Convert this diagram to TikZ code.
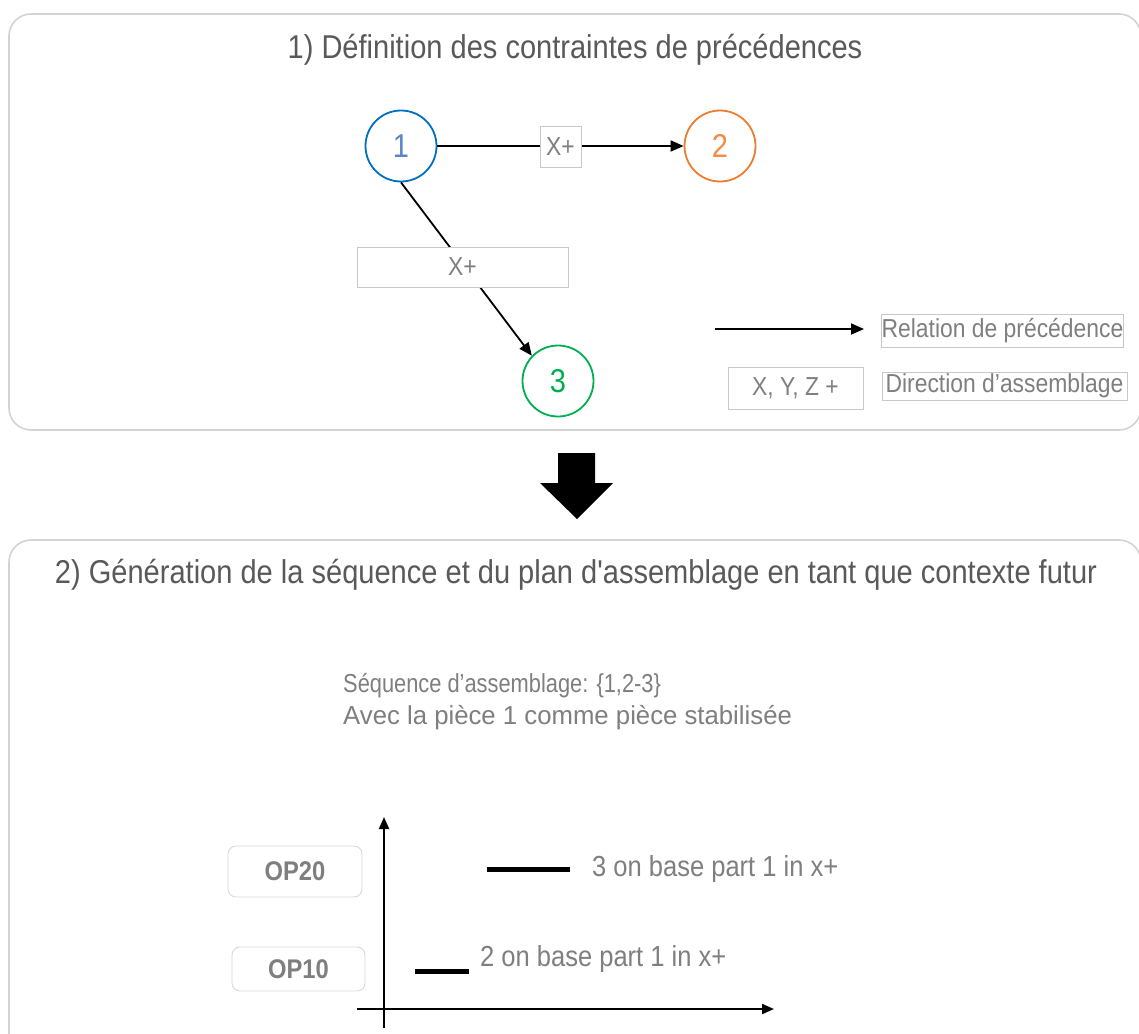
\documentclass[tikz,border=0pt]{standalone}
\usepackage{fontspec}
\setmainfont{Liberation Sans}
\newfontfamily\nar[FakeStretch=0.88]{Liberation Sans}
\newfontfamily\narr[FakeStretch=0.84]{Liberation Sans}
\newfontfamily\wid[FakeStretch=0.99]{Liberation Sans}
\usetikzlibrary{arrows.meta}
\definecolor{txtgray}{HTML}{7F7F7F}
\definecolor{titlegray}{HTML}{595959}
\definecolor{panelgray}{HTML}{D3D3D3}
\definecolor{boxgray}{HTML}{C8C8C8}
\definecolor{cblue}{HTML}{0070C0}
\definecolor{cbluet}{HTML}{5A86C5}
\definecolor{corange}{HTML}{ED7D31}
\definecolor{corangt}{HTML}{F08C44}
\definecolor{cgreen}{HTML}{00B050}
\begin{document}
\begin{tikzpicture}[x=1pt,y=-1pt,
  panel/.style={draw=panelgray, line width=1.6pt, rounded corners=22pt, fill=white},
  circ/.style={circle, draw, line width=1.8pt, minimum size=71pt, inner sep=0pt, font=\nar\fontsize{33}{33}\selectfont},
  lbl/.style={draw=boxgray, line width=0.9pt, fill=white, inner sep=0pt, text=txtgray, font=\nar\fontsize{26}{26}\selectfont},
  prec/.style={-{Triangle[length=13pt,width=11pt]}, line width=1.8pt},
  axis/.style={-{Triangle[length=12pt,width=10pt]}, line width=2pt},
  bar/.style={line width=5pt},
  optxt/.style={draw=boxgray!70, line width=0.9pt, rounded corners=8pt, inner sep=0pt, text=txtgray, font=\nar\bfseries\fontsize{27}{27}\selectfont},
  title/.style={text=titlegray, inner sep=0pt},
  body/.style={text=txtgray, inner sep=0pt}
]
\useasboundingbox (0,0) rectangle (1139,1033);
\clip (0,0) rectangle (1139,1033);
% panels
\draw[panel] (9,14) rectangle (1141,430);
\draw[panel] (9,540) rectangle (1141,1070);
% titles
\node[title, font=\nar\fontsize{33}{33}\selectfont] (t1) at (575,50) {1) Définition des contraintes de précédences};
\node[title, font=\nar\fontsize{33}{33}\selectfont] (t2) at (576,575) {2) Génération de la séquence et du plan d'assemblage en tant que contexte futur};
% graph
\node[circ, draw=cblue, text=cbluet] (n1) at (401,146) {1};
\node[circ, draw=corange, text=corangt] (n2) at (720,146) {2};
\node[circ, draw=cgreen, text=cgreen] (n3) at (558,381) {3};
\draw[prec] (n1) -- (n2);
\draw[prec] (n1.south) -- (n3.136);
\node[lbl, minimum width=41pt, minimum height=41pt] (e12) at (560.5,146.5) {X+};
\node[lbl, minimum width=211pt, minimum height=40pt] (e13) at (462.5,267) {X+};
% legend
\coordinate (la) at (715,329);
\coordinate (lb) at (864,329);
\draw[prec] (la) -- (lb);
\node[lbl, minimum width=241pt, minimum height=33pt] (rel) at (1002.5,331) {Relation de précédence};
\node[lbl, minimum width=135pt, minimum height=42pt] (xyz) at (795.5,388) {X, Y, Z +};
\node[lbl, minimum width=245pt, minimum height=28pt] (dir) at (1004.5,386) {Direction d’assemblage};
% big arrow
\fill[black] (558,453) -- (595,453) -- (595,483) -- (613,483) -- (577,519) -- (540,483) -- (558,483) -- cycle;
% body text
\node[body, anchor=west, font=\narr\fontsize{26}{26}\selectfont] (s1) at (343,686) {Séquence d’assemblage: \{1,2-3\}};
\node[body, anchor=west, font=\wid\fontsize{26}{26}\selectfont] (s2) at (343,718) {Avec la pièce 1 comme pièce stabilisée};
% axes
\coordinate (yb) at (384,1028);
\coordinate (yt) at (384,817);
\coordinate (xl) at (357,1009);
\coordinate (xr) at (774,1009);
\draw[axis] (yb) -- (yt);
\draw[axis] (xl) -- (xr);
% bars
\coordinate (b2a) at (487,869);
\coordinate (b2b) at (570,869);
\coordinate (b1a) at (415,971);
\coordinate (b1b) at (469,971);
\draw[bar] (b2a) -- (b2b);
\draw[bar] (b1a) -- (b1b);
\node[body, anchor=west, font=\nar\fontsize{29}{29}\selectfont] (l2) at (592,869) {3 on base part 1 in x+};
\node[body, anchor=west, font=\nar\fontsize{29}{29}\selectfont] (l1) at (480,959) {2 on base part 1 in x+};
% OP boxes
\node[optxt, minimum width=134pt, minimum height=51pt] (op20) at (295,871.5) {OP20};
\node[optxt, minimum width=133pt, minimum height=44pt] (op10) at (298.5,969) {OP10};
\end{tikzpicture}
\end{document}
